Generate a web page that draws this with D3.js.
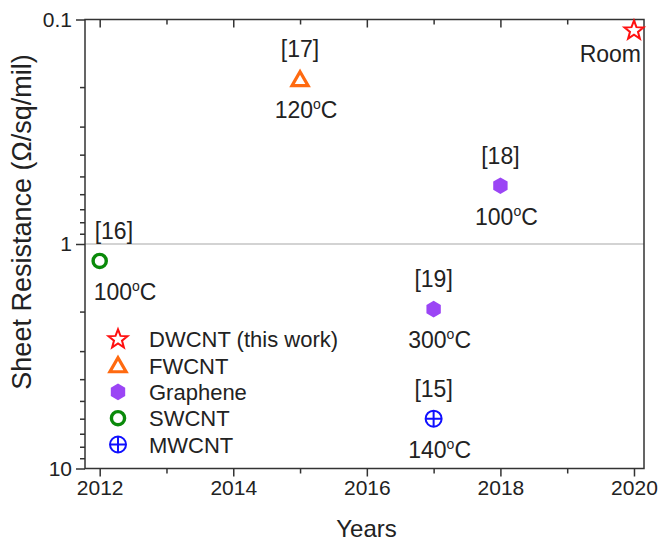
<!DOCTYPE html>
<html>
<head>
<meta charset="utf-8">
<script src="https://cdn.jsdelivr.net/npm/d3@7"></script>
<style>
  html, body { margin: 0; padding: 0; background: #fff; }
  svg { display: block; font-family: Arial, "Liberation Sans", sans-serif; }
  text { fill: #222; }
</style>
</head>
<body>
<svg id="chart" width="660" height="542"></svg>
<script>
// Legend entries (material families)
const materials = ["DWCNT (this work)", "FWCNT", "Graphene", "SWCNT", "MWCNT"];
const materialColors = ["#ff1010", "#ff6a10", "#9b45f5", "#0a8a0a", "#1010ff"];

// Reported films: year, sheet resistance (Ω/sq/mil), material, reference, processing temperature
const pointYears = [2020, 2015, 2018, 2017, 2012, 2017];
const pointResistance = [0.112, 0.185, 0.55, 1.95, 1.19, 6.0];
const pointMaterial = ["DWCNT (this work)", "FWCNT", "Graphene", "Graphene", "SWCNT", "MWCNT"];
const pointRefs = ["", "[17]", "[18]", "[19]", "[16]", "[15]"];
const pointTemps = ["Room", "120", "100", "300", "100", "140"];

// Axis ticks
const yearTicks = [2012, 2014, 2016, 2018, 2020];
const yearMinorTicks = [2013, 2015, 2017, 2019];
const resistanceTicks = [0.1, 1, 10];
const resistanceTickLabels = ["0.1", "1", "10"];

const svg = d3.select("#chart");
const margin = { left: 85, right: 16, top: 19.5, bottom: 73.5 };
const W = 660, H = 542;
const x0 = margin.left, x1 = W - margin.right;
const y0 = margin.top, y1 = H - margin.bottom;

const x = d3.scaleLinear().domain([2011.78, 2020.15]).range([x0, x1]);
const y = d3.scaleLog().domain([0.1, 10]).range([y0, y1]);

const axisColor = "#333";
const fontFamily = "Arial, 'Liberation Sans', sans-serif";

// Reference line at 1 Ω/sq/mil
svg.append("line")
  .attr("x1", x0).attr("x2", x1)
  .attr("y1", y(1)).attr("y2", y(1))
  .attr("stroke", "#c4c4c4").attr("stroke-width", 1.5);

// Minor log ticks between decades
const minorY = [];
for (const d of [0.1, 1]) for (let k = 2; k <= 9; k++) minorY.push(d * k);

function styleAxis(g, fontSize) {
  g.select(".domain").remove();
  g.selectAll(".tick line").attr("stroke", axisColor).attr("stroke-width", 1.5);
  g.selectAll(".tick text").attr("font-size", fontSize).attr("fill", "#222")
    .attr("font-family", fontFamily);
}

// Left axis
const gL = svg.append("g").attr("transform", `translate(${x0},0)`)
  .call(d3.axisLeft(y).tickValues(resistanceTicks)
    .tickFormat((d, i) => resistanceTickLabels[i]).tickSize(9).tickPadding(4));
styleAxis(gL, 21);
const gLm = svg.append("g").attr("transform", `translate(${x0},0)`)
  .call(d3.axisLeft(y).tickValues(minorY).tickSize(5).tickFormat(""));
styleAxis(gLm, 0);

// Bottom axis
const gB = svg.append("g").attr("transform", `translate(0,${y1})`)
  .call(d3.axisBottom(x).tickValues(yearTicks).tickFormat(d3.format("d"))
    .tickSize(8).tickPadding(4));
styleAxis(gB, 21);
const gBm = svg.append("g").attr("transform", `translate(0,${y1})`)
  .call(d3.axisBottom(x).tickValues(yearMinorTicks).tickSize(5).tickFormat(""));
styleAxis(gBm, 0);

// Top axis: ticks pointing inward
const gT = svg.append("g").attr("transform", `translate(0,${y0})`)
  .call(d3.axisBottom(x).tickValues(yearTicks).tickSize(8).tickFormat(""));
styleAxis(gT, 0);
const gTm = svg.append("g").attr("transform", `translate(0,${y0})`)
  .call(d3.axisBottom(x).tickValues(yearMinorTicks).tickSize(5).tickFormat(""));
styleAxis(gTm, 0);

// Frame
svg.append("rect")
  .attr("x", x0).attr("y", y0).attr("width", x1 - x0).attr("height", y1 - y0)
  .attr("fill", "none").attr("stroke", axisColor).attr("stroke-width", 1.5);

// Axis titles
svg.append("text")
  .attr("x", (x0 + x1) / 2 + 2).attr("y", 537)
  .attr("text-anchor", "middle").attr("font-size", 24)
  .text("Years");
svg.append("text")
  .attr("transform", `translate(31,${(y0 + y1) / 2 - 22}) rotate(-90)`)
  .attr("text-anchor", "middle").attr("font-size", 27)
  .text("Sheet Resistance (Ω/sq/mil)");

// Marker shapes
function starPath(R) {
  const r = R * 0.42, pts = [];
  for (let i = 0; i < 10; i++) {
    const a = -Math.PI / 2 + i * Math.PI / 5;
    const rr = i % 2 ? r : R;
    pts.push([rr * Math.cos(a), rr * Math.sin(a)]);
  }
  return "M" + pts.map(p => p.join(",")).join("L") + "Z";
}
function trianglePath(R) {
  const pts = [0, 1, 2].map(i => {
    const a = -Math.PI / 2 + i * 2 * Math.PI / 3;
    return [R * Math.cos(a), R * Math.sin(a)];
  });
  return "M" + pts.map(p => p.join(",")).join("L") + "Z";
}
function hexPath(R) {
  const pts = d3.range(6).map(i => {
    const a = -Math.PI / 2 + i * Math.PI / 3;
    return [R * Math.cos(a), R * Math.sin(a)];
  });
  return "M" + pts.map(p => p.join(",")).join("L") + "Z";
}

function drawMarker(g, material) {
  const c = materialColors[materials.indexOf(material)];
  if (material === "DWCNT (this work)") {
    g.append("path").attr("d", starPath(10)).attr("fill", "#fff")
      .attr("stroke", c).attr("stroke-width", 2).attr("stroke-linejoin", "miter");
  } else if (material === "FWCNT") {
    g.append("path").attr("d", trianglePath(9.3)).attr("transform", "translate(0,1.5)")
      .attr("fill", "#fff").attr("stroke", c).attr("stroke-width", 3.2).attr("stroke-linejoin", "miter");
  } else if (material === "Graphene") {
    g.append("path").attr("d", hexPath(8.3)).attr("fill", c);
  } else if (material === "SWCNT") {
    g.append("circle").attr("r", 6.6).attr("fill", "#fff")
      .attr("stroke", c).attr("stroke-width", 3.4);
  } else if (material === "MWCNT") {
    g.append("circle").attr("r", 8).attr("fill", "#fff")
      .attr("stroke", c).attr("stroke-width", 2);
    g.append("path").attr("d", "M-8,0H8M0,-8V8")
      .attr("stroke", c).attr("stroke-width", 2);
  }
}

// Data points with reference and temperature annotations
const points = pointYears.map((yr, i) => ({
  year: yr, value: pointResistance[i], material: pointMaterial[i],
  ref: pointRefs[i], temp: pointTemps[i]
}));

const gp = svg.append("g");
const annoSize = 23;
points.forEach(p => {
  const px = x(p.year), py = y(p.value);
  const g = gp.append("g").attr("transform", `translate(${px},${py})`);
  drawMarker(g, p.material);

  const nearLeft = px - x0 < 30;
  if (p.ref) {
    svg.append("text")
      .attr("x", nearLeft ? px - 5 : px)
      .attr("y", py - 22)
      .attr("text-anchor", nearLeft ? "start" : "middle")
      .attr("font-size", annoSize)
      .text(p.ref);
  }
  if (p.temp === "Room") {
    svg.append("text")
      .attr("x", x1 - 3).attr("y", py + 31)
      .attr("text-anchor", "end").attr("font-size", annoSize)
      .text("Room");
  } else {
    const t = svg.append("text")
      .attr("x", nearLeft ? px - 6 : px + 6)
      .attr("y", py + 39)
      .attr("text-anchor", nearLeft ? "start" : "middle")
      .attr("font-size", annoSize);
    t.append("tspan").text(p.temp);
    t.append("tspan").attr("font-size", 14).attr("dy", -9).text("o");
    t.append("tspan").attr("dy", 9).text("C");
  }
});

// Legend
const legend = svg.append("g").attr("transform", "translate(118,339.3)");
materials.forEach((m, i) => {
  const row = legend.append("g").attr("transform", `translate(0,${i * 26.3})`);
  drawMarker(row, m);
  row.append("text").attr("x", 31).attr("y", 8)
    .attr("font-size", 22).text(m);
});
</script>
</body>
</html>
